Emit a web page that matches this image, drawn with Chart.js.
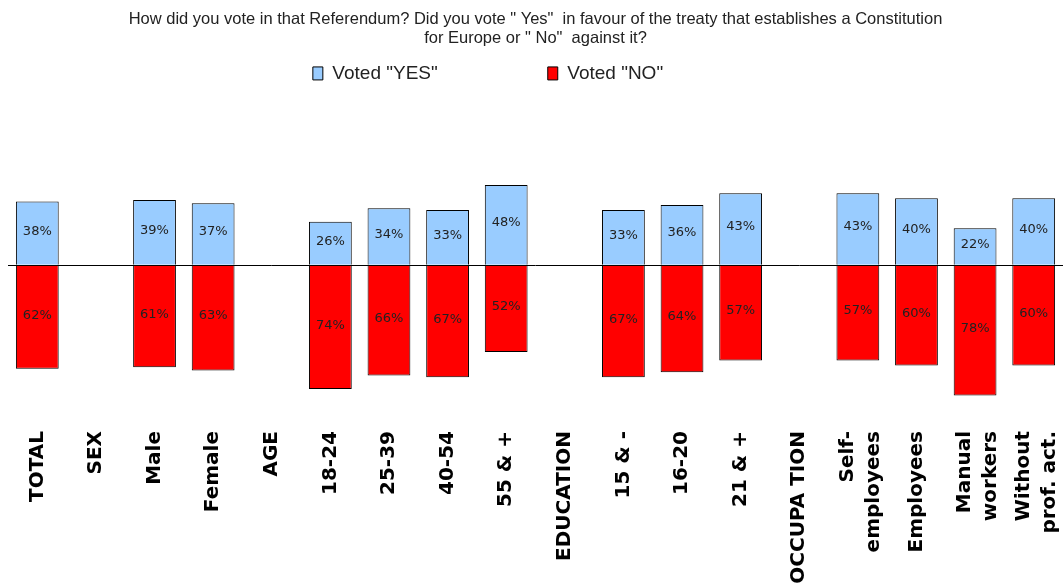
<!DOCTYPE html>
<html>
<head>
<meta charset="utf-8">
<script src="https://cdn.jsdelivr.net/npm/chart.js@4/dist/chart.umd.min.js"></script>
<style>
  html, body { margin: 0; padding: 0; background: #fff; }
  #wrap { width: 1063px; height: 583px; }
</style>
</head>
<body>
<div id="wrap"><canvas id="voteChart" width="1063" height="583"></canvas></div>
<script>
// categories (group headers have no bars)
const categories = [
    "TOTAL", "SEX", "Male", "Female", "AGE", "18-24", "25-39", "40-54", "55 & +",
    "EDUCATION", "15 & -", "16-20", "21 & +", "OCCUPA TION",
    ["Self-", "employees"], "Employees", ["Manual", "workers"], ["Without", "prof. act."]
];
const votedYes = [38, null, 39, 37, null, 26, 34, 33, 48, null, 33, 36, 43, null, 43, 40, 22, 40];
const votedNo = [62, null, 61, 63, null, 74, 66, 67, 52, null, 67, 64, 57, null, 57, 60, 78, 60];

const titleLines = [
    "How did you vote in that Referendum? Did you vote \" Yes\"  in favour of the treaty that establishes a Constitution",
    "for Europe or \" No\"  against it?"
];

// wide gap between the two legend entries, like the original
const legendGap = "\u00a0".repeat(18);

// percentage labels in the middle of each bar
const barLabels = {
    id: "barLabels",
    afterDatasetsDraw(chart) {
        const ctx = chart.ctx;
        ctx.save();
        ctx.font = "13px 'DejaVu Sans'";
        ctx.fillStyle = "#222";
        ctx.textAlign = "center";
        ctx.textBaseline = "middle";
        chart.data.datasets.forEach((ds, i) => {
            const meta = chart.getDatasetMeta(i);
            meta.data.forEach((bar, j) => {
                const v = ds.data[j];
                if (v === null || v === undefined) return;
                ctx.fillText(Math.abs(v) + "%", bar.x, (bar.y + bar.base) / 2 - 2);
            });
        });
        ctx.restore();
    }
};

// center two-line category labels on their bar
const centerMultiLine = {
    id: "centerMultiLine",
    beforeDraw(chart) {
        chart.scales.x.getLabelItems().forEach((item) => {
            if (Array.isArray(item.label) && !item._moved) {
                item.options.translation[0] -= 10;
                item._moved = true;
            }
        });
    }
};

new Chart(document.getElementById("voteChart"), {
    type: "bar",
    data: {
        labels: categories,
        datasets: [
            {
                label: "Voted \"YES\"",
                data: votedYes,
                backgroundColor: "#99ccff",
                borderColor: "#000",
                borderWidth: 1,
                categoryPercentage: 1,
                barPercentage: 0.73,
            },
            {
                label: "Voted \"NO\"",
                data: votedNo.map((v) => (v === null ? null : -v)),
                backgroundColor: "#ff0000",
                borderColor: "#000",
                borderWidth: 1,
                categoryPercentage: 1,
                barPercentage: 0.73,
            },
        ],
    },
    options: {
        responsive: false,
        devicePixelRatio: 1,
        animation: false,
        layout: {
            padding: { left: 8, right: 0, top: 2, bottom: 0 }
        },
        plugins: {
            title: {
                display: true,
                text: titleLines,
                color: "#222",
                font: { family: "'Liberation Sans'", size: 16.5, weight: "normal", lineHeight: 1.21 },
                padding: { top: 7, bottom: 0 }
            },
            legend: {
                display: true,
                position: "top",
                labels: {
                    color: "#222",
                    font: { family: "'Liberation Sans'", size: 19 },
                    boxWidth: 10,
                    boxHeight: 13,
                    padding: 15,
                    generateLabels(chart) {
                        const items = Chart.defaults.plugins.legend.labels.generateLabels(chart);
                        items.forEach((it) => { it.text = it.text + legendGap; });
                        return items;
                    }
                }
            },
            tooltip: { enabled: false }
        },
        scales: {
            x: {
                stacked: true,
                grid: { display: false },
                border: { display: false },
                afterFit(scale) {
                    scale.paddingLeft = 0;
                    scale.paddingRight = 0;
                    scale.height = 164;
                },
                ticks: {
                    autoSkip: false,
                    minRotation: 90,
                    maxRotation: 90,
                    color: "#000",
                    padding: 4,
                    font: { family: "'DejaVu Sans'", size: 20, weight: "bold", lineHeight: 1.3 }
                }
            },
            y: {
                stacked: true,
                min: -92,
                max: 103,
                border: { display: false },
                ticks: { display: false, stepSize: 1 },
                grid: {
                    drawTicks: false,
                    lineWidth: 1,
                    color: (c) => (c.tick && c.tick.value === 0 ? "#000" : "rgba(0,0,0,0)")
                }
            }
        }
    },
    plugins: [barLabels, centerMultiLine]
});
</script>
</body>
</html>
